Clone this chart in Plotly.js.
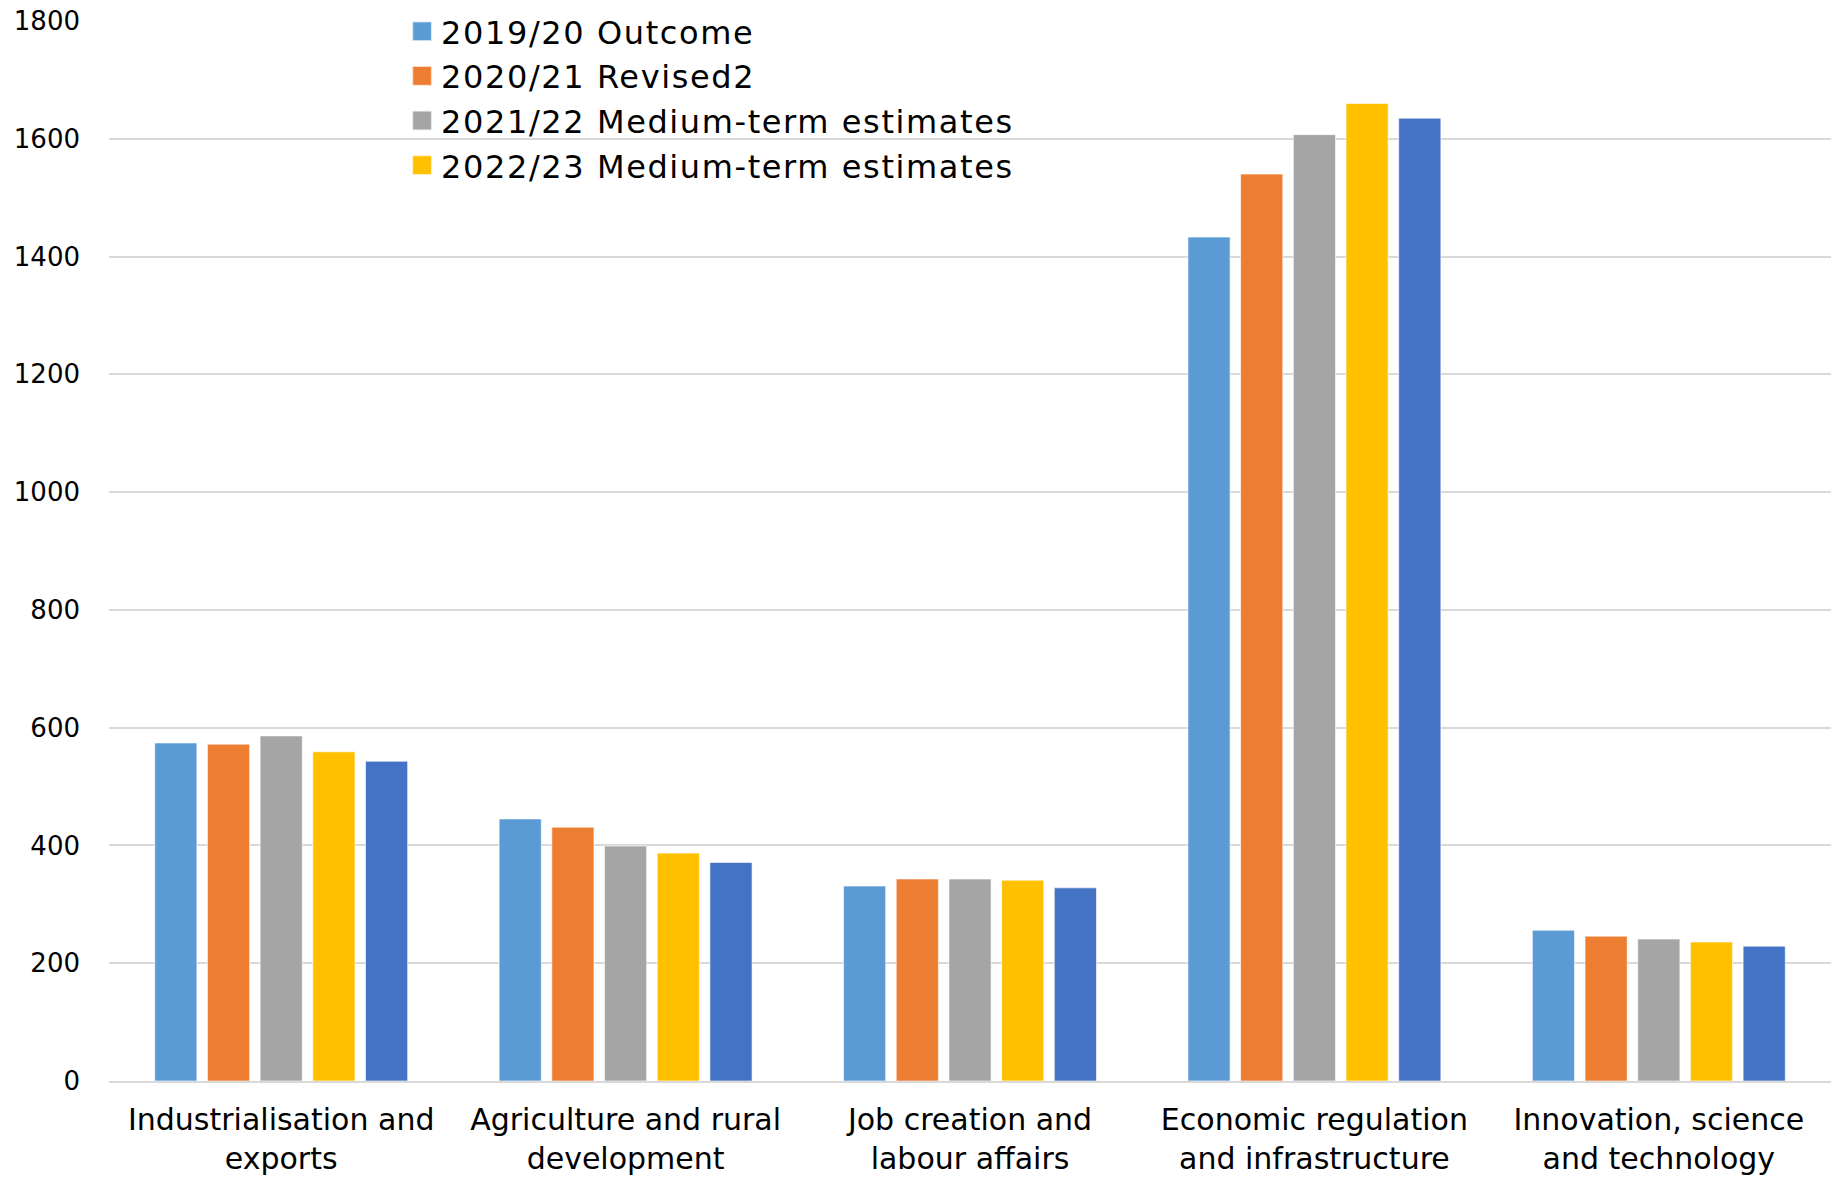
<!DOCTYPE html>
<html>
<head>
<meta charset="utf-8">
<script src="https://cdn.plot.ly/plotly-3.0.1.min.js"></script>
<style>
  html, body { margin: 0; padding: 0; background: #ffffff; }
  #chart { width: 1845px; height: 1177px; }
  .legendpoints path {
    transform-box: fill-box;
    transform-origin: center;
    transform: translateX(21px) scale(1.6);
  }
  .legendtext { letter-spacing: 1.6px; }
</style>
</head>
<body>
<div id="chart"></div>
<script>
const categories = [
  "Industrialisation and<br>exports",
  "Agriculture and rural<br>development",
  "Job creation and<br>labour affairs",
  "Economic regulation<br>and infrastructure",
  "Innovation, science<br>and technology"
];
const seriesNames = [
  "2019/20 Outcome",
  "2020/21 Revised2",
  "2021/22 Medium-term estimates",
  "2022/23 Medium-term estimates",
  "Series 5"
];
const outcome2019 = [574, 445, 331, 1433, 256];
const revised2020 = [572, 431, 343, 1540, 246];
const mte2021 = [586, 399, 343, 1607, 241];
const mte2022 = [559, 387, 341, 1660, 236];
const series5 = [543, 371, 328, 1635, 229];
const showInLegend = [true, true, true, true, false];
const colors = ["#5B9BD5", "#ED7D31", "#A5A5A5", "#FFC000", "#4472C4"];
const tickVals = [0, 200, 400, 600, 800, 1000, 1200, 1400, 1600, 1800];

const allValues = [outcome2019, revised2020, mte2021, mte2022, series5];
const traces = allValues.map((vals, i) => ({
  type: "bar",
  name: seriesNames[i],
  x: categories,
  y: vals,
  showlegend: showInLegend[i],
  marker: { color: colors[i], line: { color: "rgba(255,255,255,0.6)", width: 1 } }
}));

const font = "'DejaVu Sans', 'Noto Sans', sans-serif";
const layout = {
  width: 1845,
  height: 1177,
  paper_bgcolor: "#ffffff",
  plot_bgcolor: "#ffffff",
  margin: { l: 109, r: 14, t: 4, b: 96 },
  barmode: "group",
  bargap: 0.235,
  bargroupgap: 0.2,
  font: { family: font, color: "#000000", size: 28 },
  xaxis: {
    type: "category",
    showgrid: false,
    showline: true,
    linecolor: "#d9d9d9",
    linewidth: 2,
    ticks: "",
    ticklabelstandoff: 11,
    tickfont: { family: font, size: 30, color: "#000000" }
  },
  yaxis: {
    domain: [0, 0.98422],
    range: [0, 1800],
    tickmode: "array",
    tickvals: tickVals,
    ticktext: tickVals.map(String),
    showgrid: true,
    gridcolor: "#d9d9d9",
    gridwidth: 2,
    zeroline: false,
    showline: false,
    ticks: "",
    ticklabelstandoff: 28,
    tickfont: { family: font, size: 26, color: "#000000" }
  },
  showlegend: true,
  legend: {
    x: 0.1696,
    y: 1,
    xanchor: "left",
    yanchor: "top",
    bgcolor: "rgba(0,0,0,0)",
    font: { family: font, size: 32, color: "#000000" },
    itemwidth: 30,
    tracegroupgap: 0
  }
};

Plotly.newPlot("chart", traces, layout, { displayModeBar: false, staticPlot: true });
</script>
</body>
</html>
